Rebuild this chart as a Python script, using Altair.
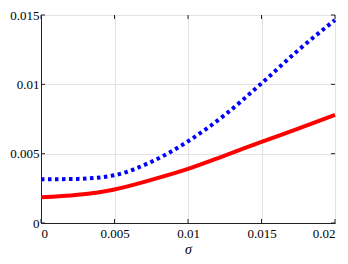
import altair as alt
import pandas as pd

sigma = [0, 0.0025, 0.005, 0.0075, 0.01, 0.0125, 0.015, 0.0175, 0.02]
red_vals = [0.00185, 0.00203, 0.00242, 0.00311, 0.0039, 0.00486, 0.00585, 0.00681, 0.00779]
blue_vals = [0.00315, 0.00318, 0.00345, 0.00441, 0.00589, 0.00779, 0.01007, 0.01246, 0.01464]
x_ticks = [0, 0.005, 0.01, 0.015, 0.02]
y_ticks = [0, 0.005, 0.01, 0.015]

W, H = 294, 208
FONT = "Liberation Serif"

df_red = pd.DataFrame({"x": sigma, "y": red_vals})
df_blue = pd.DataFrame({"x": sigma, "y": blue_vals})
df_xt = pd.DataFrame({"t": x_ticks})
df_yt = pd.DataFrame({"t": y_ticks})

xs = alt.Scale(domain=[0, 0.02], nice=False, zero=False)
ys = alt.Scale(domain=[0, 0.015], nice=False, zero=False)

xax = alt.Axis(values=x_ticks, format=".3~f", title="σ", labelFlush=True,
               labelFlushOffset=0, labelPadding=4, titlePadding=2)
yax = alt.Axis(values=y_ticks, format=".3~f", title=None, labelPadding=2)

red = alt.Chart(df_red).mark_line(color="#ff0000", strokeWidth=4, interpolate="monotone").encode(
    x=alt.X("x:Q", scale=xs, axis=xax),
    y=alt.Y("y:Q", scale=ys, axis=yax),
)
blue = alt.Chart(df_blue).mark_line(color="#0000ff", strokeWidth=4, strokeDash=[3.5, 3.5],
                                    strokeCap="butt", interpolate="monotone").encode(
    x=alt.X("x:Q", scale=xs, axis=xax),
    y=alt.Y("y:Q", scale=ys, axis=yax),
)

# inward ticks (box style)
xt_bottom = alt.Chart(df_xt).mark_rule(color="#222", strokeWidth=1).encode(
    x=alt.X("t:Q", scale=xs, axis=xax), y=alt.value(H), y2=alt.value(H - 4))
xt_top = alt.Chart(df_xt).mark_rule(color="#222", strokeWidth=1).encode(
    x=alt.X("t:Q", scale=xs, axis=xax), y=alt.value(0), y2=alt.value(4))
yt_left = alt.Chart(df_yt).mark_rule(color="#222", strokeWidth=1).encode(
    y=alt.Y("t:Q", scale=ys, axis=yax), x=alt.value(0), x2=alt.value(4))
yt_right = alt.Chart(df_yt).mark_rule(color="#222", strokeWidth=1).encode(
    y=alt.Y("t:Q", scale=ys, axis=yax), x=alt.value(W), x2=alt.value(W - 4))

chart = alt.layer(red, blue, xt_bottom, xt_top, yt_left, yt_right).properties(
    width=W, height=H,
    autosize=alt.AutoSizeParams(type="none"),
    padding={"left": 33, "top": 7, "right": 5, "bottom": 33},
).configure(
    background="white", font=FONT
).configure_view(
    stroke="#222", strokeWidth=1
).configure_axis(
    grid=True, gridColor="#e3e3e3", ticks=False, domainColor="#222",
    labelFont=FONT, labelFontSize=13, labelColor="black",
    titleFont=FONT, titleFontSize=14, titleFontStyle="italic",
    titleFontWeight="normal", titleColor="black",
)

chart.save("out.html", embed_options={"renderer": "svg", "actions": False})
